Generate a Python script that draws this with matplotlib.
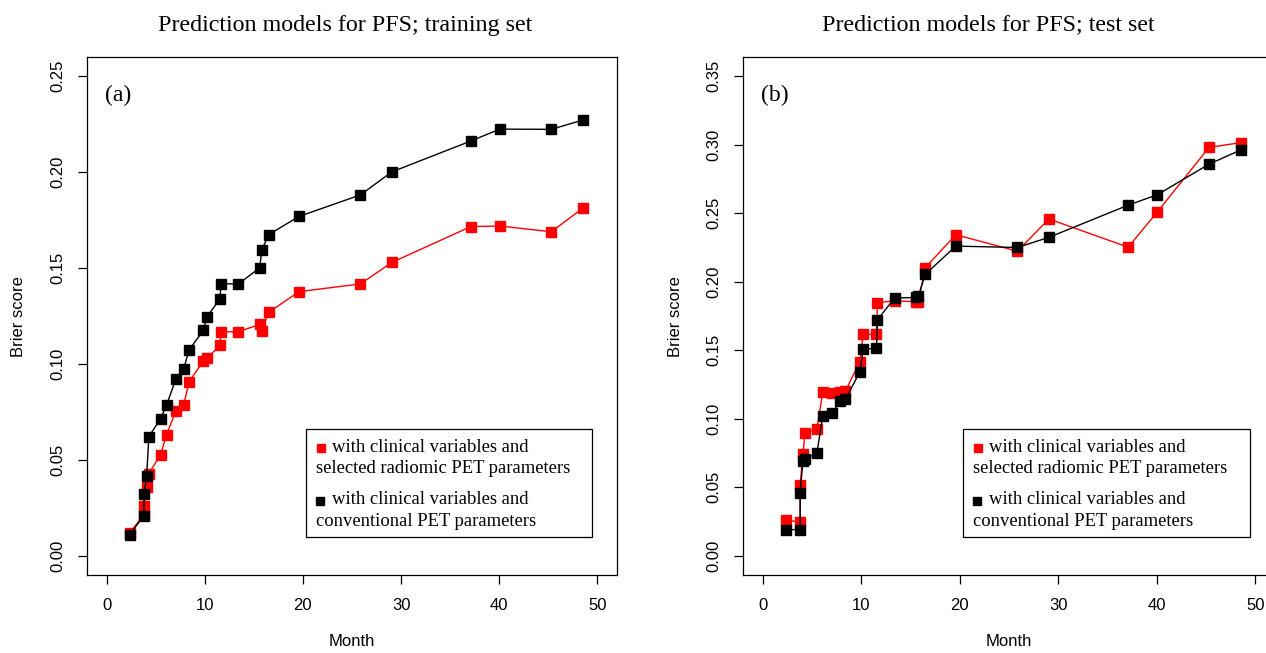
import numpy as np
import matplotlib
matplotlib.use("Agg")
import matplotlib.pyplot as plt
from matplotlib.patches import Rectangle

# time points (months), shared by both panels
month = [2.35, 3.8, 3.8, 4.08, 4.3, 5.5, 6.1, 7.07, 7.86, 8.4, 9.86, 10.2,
         11.55, 11.65, 13.4, 15.6, 15.8, 16.5, 19.6, 25.85, 29.05, 37.1,
         40.06, 45.3, 48.5]

# (a) training set
train_radiomic = [0.012, 0.0214, 0.0258, 0.0359, 0.0429, 0.0527, 0.0631, 0.0757,
                  0.0788, 0.0908, 0.1016, 0.1029, 0.1097, 0.1168, 0.1168, 0.1206,
                  0.1172, 0.1269, 0.1377, 0.1417, 0.1529, 0.1716, 0.1719, 0.1689,
                  0.1811]
train_conventional = [0.011, 0.021, 0.0324, 0.0415, 0.0621, 0.0715, 0.0785, 0.0924,
                      0.0975, 0.1074, 0.1175, 0.1245, 0.1339, 0.1419, 0.1416, 0.1501,
                      0.1592, 0.1674, 0.1769, 0.1881, 0.2001, 0.2162, 0.2224, 0.2223,
                      0.2271]

# (b) test set
test_radiomic = [0.026, 0.0248, 0.0515, 0.0743, 0.0899, 0.0926, 0.1196, 0.1186,
                 0.1199, 0.1203, 0.1417, 0.1618, 0.1618, 0.1848, 0.186, 0.1855,
                 0.1855, 0.2103, 0.2343, 0.2223, 0.2458, 0.2252, 0.251, 0.298,
                 0.3015]
test_conventional = [0.0191, 0.0191, 0.0461, 0.069, 0.0705, 0.075, 0.102, 0.1044,
                     0.1127, 0.1142, 0.1343, 0.1507, 0.1515, 0.1723, 0.1882, 0.1885,
                     0.1895, 0.2054, 0.226, 0.225, 0.2324, 0.2559, 0.2635, 0.2858,
                     0.2961]

titles = ["Prediction models for PFS; training set", "Prediction models for PFS; test set"]
tags = ["(a)", "(b)"]
yticks_a = [0.00, 0.05, 0.10, 0.15, 0.20, 0.25]
yticks_b = [0.00, 0.05, 0.10, 0.15, 0.20, 0.25, 0.30, 0.35]
xticks = [0, 10, 20, 30, 40, 50]
legend_lines = ["with clinical variables and", "selected radiomic PET parameters",
                "with clinical variables and", "conventional PET parameters"]

SERIF = "Liberation Serif"
SANS = "Liberation Sans"
plt.rcParams["font.family"] = SANS

W, H = 1266, 653
fig = plt.figure(figsize=(W / 100, H / 100), dpi=100)

ax_a = fig.add_axes([87 / W, 1 - 575 / H, 530 / W, 518 / H])
ax_b = fig.add_axes([743 / W, 1 - 575 / H, 532 / W, 518 / H])

panels = [
    (ax_a, train_radiomic, train_conventional, yticks_a, 345, 19),
    (ax_b, test_radiomic, test_conventional, yticks_b, 988, 676),
]

for i, (ax, red, black, yt, tx, ylx) in enumerate(panels):
    ax.plot(month, red, color="#ff0000", lw=1.0, marker="s", ms=6.5,
            mec="#ff0000", mfc="#ff0000", zorder=3)
    ax.plot(month, black, color="#000000", lw=1.0, marker="s", ms=6.5,
            mec="#000000", mfc="#000000", zorder=3)
    ymax = yt[-1]
    ax.set_xlim(-2, 52)
    ax.set_ylim(-0.04 * ymax, 1.04 * ymax)
    ax.set_xticks(xticks)
    ax.set_yticks(yt)
    ax.set_yticklabels(["%.2f" % v for v in yt], rotation=90, va="center")
    ax.tick_params(direction="out", length=6.5, width=0.9, labelsize=12, pad=9)
    ax.tick_params(axis="x", pad=10)
    for s in ax.spines.values():
        s.set_linewidth(0.9)
    ax.set_xlabel("Month", fontsize=12, labelpad=15)
    fig.text(ylx / W, 1 - 317 / H, "Brier score", rotation=90, fontsize=12,
             ha="center", va="center")
    fig.text(tx / W, 1 - 25 / H, titles[i], family=SERIF, fontsize=17.3,
             ha="center", va="center")
    ax.text(0.034, 0.925, tags[i], transform=ax.transAxes, family=SERIF,
            fontsize=17, ha="left", va="center")

    # legend box
    ax.add_patch(Rectangle((0.413, 0.073), 0.54, 0.209, transform=ax.transAxes,
                           fill=False, lw=0.9, ec="black", zorder=4))
    ax.plot([0.4415], [0.245], "s", color="#ff0000", ms=6, transform=ax.transAxes, zorder=5)
    ax.plot([0.44], [0.143], "s", color="#000000", ms=6, transform=ax.transAxes, zorder=5)
    ax.text(0.462, 0.247, legend_lines[0], transform=ax.transAxes, family=SERIF,
            fontsize=13.4, va="center", ha="left")
    ax.text(0.432, 0.205, legend_lines[1], transform=ax.transAxes, family=SERIF,
            fontsize=13.4, va="center", ha="left")
    ax.text(0.462, 0.146, legend_lines[2], transform=ax.transAxes, family=SERIF,
            fontsize=13.4, va="center", ha="left")
    ax.text(0.432, 0.104, legend_lines[3], transform=ax.transAxes, family=SERIF,
            fontsize=13.4, va="center", ha="left")

fig.savefig("out.png", dpi=100)
